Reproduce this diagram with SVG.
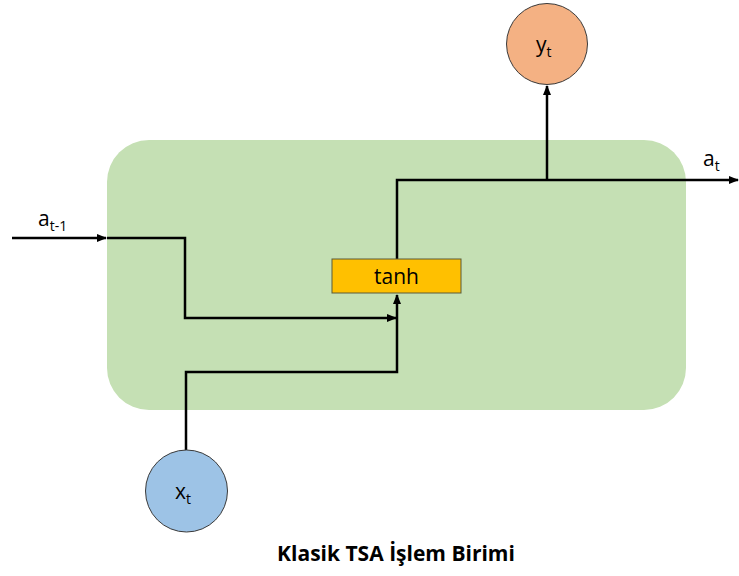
<svg xmlns="http://www.w3.org/2000/svg" width="739" height="576" viewBox="0 0 739 576">
<style>
text{font-family:"Open Sans","Liberation Sans",sans-serif;fill:#000}
.ln{fill:none;stroke:#000;stroke-width:2.5}
.lbl{font-size:21px}
.sub{font-size:14px}
</style>
<defs>
<marker id="ar" viewBox="0 0 10 10" refX="9" refY="5" markerWidth="4" markerHeight="4" orient="auto" markerUnits="strokeWidth">
<path d="M0,1 L10,5 L0,9 Z" fill="#000"/>
</marker>
</defs>
<rect x="0" y="0" width="739" height="576" fill="#fff"/>
<g id="cell">
<rect x="107" y="140" width="579" height="270" rx="42" fill="#c5e0b4"/>
</g>
<g id="connectors">
<path class="ln" d="M12,238 H106" marker-end="url(#ar)"/>
<path class="ln" d="M107,238 H185 V318 H396" marker-end="url(#ar)"/>
<path class="ln" d="M186,450 V372 H397 V295" marker-end="url(#ar)"/>
<path class="ln" d="M397,259 V180 H738" marker-end="url(#ar)"/>
<path class="ln" d="M547,180 V86" marker-end="url(#ar)"/>
</g>
<g id="tanh">
<rect x="332" y="259" width="129" height="34" fill="#ffc000" stroke="#5a5a3a" stroke-width="1"/>
<text x="396.5" y="284" text-anchor="middle" font-size="21">tanh</text>
</g>
<g id="y">
<circle cx="547" cy="44" r="40.5" fill="#f4b183" stroke="#3a3a3a" stroke-width="1"/>
<text x="536" y="52" class="lbl">y<tspan class="sub" dy="5">t</tspan></text>
</g>
<g id="x">
<circle cx="186.5" cy="491" r="41" fill="#9dc3e6" stroke="#3a3a3a" stroke-width="1"/>
<text x="175" y="499" class="lbl">x<tspan class="sub" dy="5">t</tspan></text>
</g>
<g id="labels">
<text x="38" y="226" class="lbl">a<tspan class="sub" dy="5">t-1</tspan></text>
<text x="703" y="166" class="lbl">a<tspan class="sub" dy="5">t</tspan></text>
<text x="396" y="561" text-anchor="middle" font-size="21" font-weight="bold">Klasik TSA İşlem Birimi</text>
</g>
</svg>
